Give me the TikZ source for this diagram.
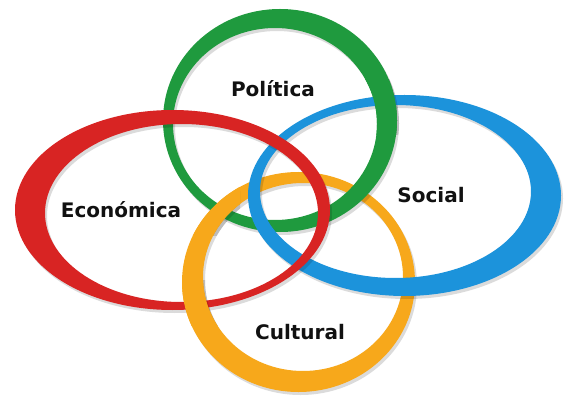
\documentclass[tikz,border=0pt]{standalone}
\usepackage{fontspec}
\setsansfont{DejaVu Sans}
\definecolor{cgreen}{HTML}{1F9A3E}
\definecolor{cred}{HTML}{D82423}
\definecolor{cblue}{HTML}{1C93DB}
\definecolor{corange}{HTML}{F7A81B}
\definecolor{textblack}{HTML}{111111}
\newcommand\ringpath[8]{(#1,#2) ellipse [x radius=#3pt, y radius=#4pt] (#5,#6) ellipse [x radius=#7pt, y radius=#8pt]}
\newcommand\drawring[9]{%
  \fill[black, opacity=.14, even odd rule, shift={(2,3)}] \ringpath{#1}{#2}{#3}{#4}{#5}{#6}{#7}{#8};
  \fill[#9, even odd rule] \ringpath{#1}{#2}{#3}{#4}{#5}{#6}{#7}{#8};}
\newcommand\RingG{\drawring{280}{120.5}{117}{111.5}{275}{124}{102}{96}{cgreen}}
\newcommand\RingR{\drawring{172.5}{210}{157.5}{100}{181.5}{213}{136.5}{89}{cred}}
\newcommand\RingB{\drawring{404.5}{195.5}{156.5}{100.5}{395.5}{191.5}{135.5}{86.5}{cblue}}
\newcommand\RingO{\drawring{298.5}{282}{116.5}{110}{303}{277}{100}{94}{corange}}
\begin{document}
\begin{tikzpicture}[x=1pt,y=-1pt,
  lbl/.style={font=\sffamily\bfseries\fontsize{20}{20}\selectfont, text=textblack, inner sep=0pt}]
\useasboundingbox (0,0) rectangle (564,403);
\fill[white] (0,0) rectangle (564,403);
% base stacking order
\RingO
\RingG
\RingB
\RingR
% interlacing corrections
\begin{scope}\clip (185,180) rectangle (240,235); \RingO \end{scope}
\begin{scope}\clip (170,280) rectangle (225,325); \RingO \end{scope}
\begin{scope}\clip (355,80) rectangle (410,135); \RingG \end{scope}
% labels
\node[lbl] (pol) at (273,89) {Política};
\node[lbl] (eco) at (121,210) {Económica};
\node[lbl] (soc) at (431,195) {Social};
\node[lbl] (cul) at (300,332) {Cultural};
\end{tikzpicture}
\end{document}
